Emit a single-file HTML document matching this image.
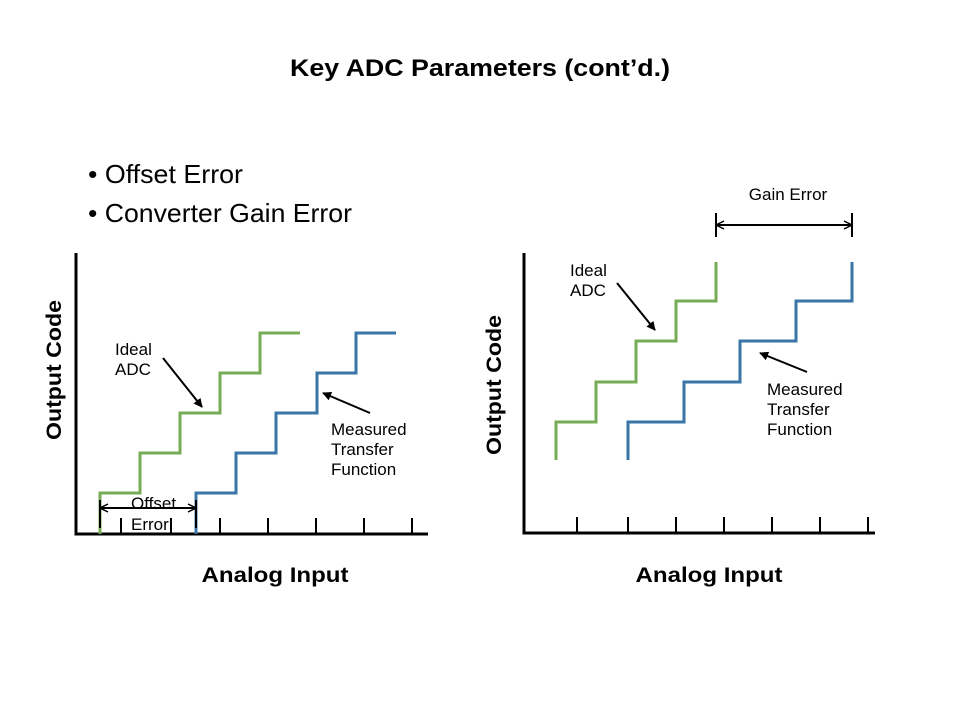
<!DOCTYPE html>
<html><head><meta charset="utf-8"><style>
html,body{margin:0;padding:0;background:#fff;}
svg{display:block;font-family:"Liberation Sans",Arial,sans-serif;}
</style></head><body>
<svg width="960" height="720" viewBox="0 0 960 720" xmlns="http://www.w3.org/2000/svg">
<defs>
<marker id="ah" viewBox="0 0 10 10" refX="9" refY="5" markerWidth="9" markerHeight="9" markerUnits="userSpaceOnUse" orient="auto">
<path d="M0,0 L10,5 L0,10 z" fill="#000"/></marker>
<marker id="oa" viewBox="0 0 10 10" refX="9" refY="5" markerWidth="10" markerHeight="10" markerUnits="userSpaceOnUse" orient="auto-start-reverse">
<path d="M1,1 L9,5 L1,9" fill="none" stroke="#000" stroke-width="1.5"/></marker>
</defs>
<text x="480" y="76" text-anchor="middle" font-size="24" font-weight="bold" textLength="380" lengthAdjust="spacingAndGlyphs">Key ADC Parameters (cont’d.)</text>
<text x="88" y="183" font-size="26" textLength="155" lengthAdjust="spacingAndGlyphs">• Offset Error</text>
<text x="88" y="222" font-size="26" textLength="264" lengthAdjust="spacingAndGlyphs">• Converter Gain Error</text>

<!-- Left chart -->
<path d="M76,253 V534 H428" stroke="#000" stroke-width="3" fill="none"/>
<path d="M121,518V534M171,518V534M220,518V534M268,518V534M316,518V534M364,518V534M412,518V534" stroke="#000" stroke-width="2"/>
<path d="M100,534 V493 H140 V453 H180 V413 H220 V373 H260 V333 H300" stroke="#77ac57" stroke-width="3" fill="none"/>
<path d="M196,534 V493 H236 V453 H276 V413 H317 V373 H356 V333 H396" stroke="#3a75a8" stroke-width="3" fill="none"/>
<line x1="163" y1="358" x2="202" y2="407" stroke="#000" stroke-width="2" marker-end="url(#ah)"/>
<line x1="370" y1="413" x2="323" y2="393" stroke="#000" stroke-width="2" marker-end="url(#ah)"/>
<line x1="100" y1="508" x2="196" y2="508" stroke="#000" stroke-width="2" marker-start="url(#oa)" marker-end="url(#oa)"/>
<path d="M100,500V528M196,500V528" stroke="#000" stroke-width="2"/>
<text font-size="17" x="131" y="509">Offset</text>
<text font-size="17" x="131" y="530">Error</text>
<text font-size="17" x="115" y="355">Ideal</text>
<text font-size="17" x="115" y="375">ADC</text>
<text font-size="17" x="331" y="435">Measured</text>
<text font-size="17" x="331" y="455">Transfer</text>
<text font-size="17" x="331" y="475">Function</text>
<text font-size="21" font-weight="bold" text-anchor="middle" transform="translate(61,370) rotate(-90)" textLength="140" lengthAdjust="spacingAndGlyphs">Output Code</text>
<text font-size="21" font-weight="bold" text-anchor="middle" x="275" y="582" textLength="147" lengthAdjust="spacingAndGlyphs">Analog Input</text>

<!-- Right chart -->
<path d="M524,253 V533 H875" stroke="#000" stroke-width="3" fill="none"/>
<path d="M577,517V533M628,517V533M676,517V533M724,517V533M772,517V533M820,517V533M868,517V533" stroke="#000" stroke-width="2"/>
<path d="M556,460 V422 H596 V382 H636 V341 H676 V301 H716 V262" stroke="#77ac57" stroke-width="3" fill="none"/>
<path d="M628,460 V422 H684 V382 H740 V341 H796 V301 H852 V262" stroke="#3a75a8" stroke-width="3" fill="none"/>
<line x1="617" y1="283" x2="655" y2="330" stroke="#000" stroke-width="2" marker-end="url(#ah)"/>
<line x1="807" y1="372" x2="760" y2="353" stroke="#000" stroke-width="2" marker-end="url(#ah)"/>
<line x1="716" y1="225" x2="852" y2="225" stroke="#000" stroke-width="2" marker-start="url(#oa)" marker-end="url(#oa)"/>
<path d="M716,213V237M852,213V237" stroke="#000" stroke-width="2"/>
<text font-size="17" x="788" y="200" text-anchor="middle">Gain Error</text>
<text font-size="17" x="570" y="276">Ideal</text>
<text font-size="17" x="570" y="296">ADC</text>
<text font-size="17" x="767" y="395">Measured</text>
<text font-size="17" x="767" y="415">Transfer</text>
<text font-size="17" x="767" y="435">Function</text>
<text font-size="21" font-weight="bold" text-anchor="middle" transform="translate(501,385) rotate(-90)" textLength="140" lengthAdjust="spacingAndGlyphs">Output Code</text>
<text font-size="21" font-weight="bold" text-anchor="middle" x="709" y="582" textLength="147" lengthAdjust="spacingAndGlyphs">Analog Input</text>
</svg>
</body></html>
